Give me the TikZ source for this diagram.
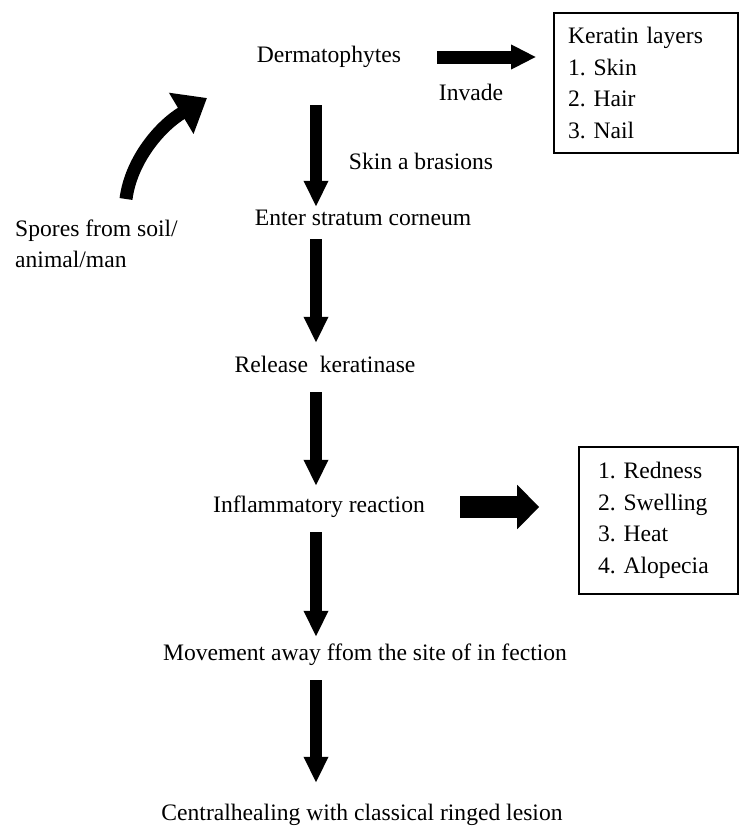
\documentclass[tikz,border=0pt]{standalone}
\usepackage{fontspec}
\setmainfont{Liberation Serif}
\usepackage{tikz}
\usetikzlibrary{arrows.meta,calc}
\frenchspacing

\begin{document}
\begin{tikzpicture}[x=1pt, y=-1pt, node/.style={font=\fontsize{23.6}{31.5}\selectfont, inner sep=0, text height=16pt, text depth=5pt}, list node/.style={font=\fontsize{23.6}{31.5}\selectfont, draw, line width=1.6pt, align=left}, down/.style={line width=12pt, -{Triangle[width=23pt,length=26pt]}}, side/.style={line width=13pt, -{Triangle[width=23pt,length=25pt]}}, fat side/.style={line width=22pt, -{Triangle[width=43pt,length=22pt]}}]
\useasboundingbox (0,0) rectangle (740,827);
\node[node] (1) at (329,57) {Dermatophytes};
\node[node] (2) at (363,220) {Enter stratum corneum};
\node[node] (3) at (325,367) {Release\ \ keratinase};
\node[node] (4) at (319,507) {Inflammatory reaction};
\node[node] (5) at (365,655) {Movement away ffom the site of in fection};
\node[node] (6) at (362,815) {Centralhealing with classical ringed lesion};
\node[list node, text width=156pt, inner xsep=14pt, minimum height=140pt] (7) at (646,83) {Keratin layers\\1. Skin\\2. Hair\\3. Nail};
\node[list node, text width=121pt, inner xsep=19pt, minimum height=147pt] (8) at (658.5,520.5) {1. Redness\\2. Swelling\\3. Heat\\4. Alopecia};
\node[node] (9) at (471,95) {Invade};
\node[node] (10) at (421,164) {Skin a brasions};
\node[font=\fontsize{23.6}{31.5}\selectfont, inner sep=0, align=left, anchor=west] (11) at (15,244) {Spores from soil/\\animal/man};
\coordinate (c) at (316,0);
\coordinate (12) at (126,199);
\coordinate (13) at (207,98);
\path
(1.south -| c) edge[down, shorten <=37.5pt, shorten >=2.5pt] (2.north -| c)
(2.south -| c) edge[down, shorten <=8.5pt, shorten >=13.5pt] (3.north -| c)
(3.south -| c) edge[down, shorten <=14.5pt, shorten >=10.5pt] (4.north -| c)
(4.south -| c) edge[down, shorten <=14.5pt, shorten >=7.5pt] (5.north -| c)
(5.south -| c) edge[down, shorten <=14.5pt, shorten >=21.5pt] (6.north -| c)
(1.east) edge[side, shorten <=36pt, shorten >=17pt] (1.east -| 7.west)
(4.east) edge[fat side, shorten <=35pt, shorten >=39pt] (4.east -| 8.west);
\draw[line width=13pt, -{Triangle[width=46pt,length=30pt]}] (12) .. controls (131,160) and (160,126) .. (13);
\end{tikzpicture}
\end{document}
